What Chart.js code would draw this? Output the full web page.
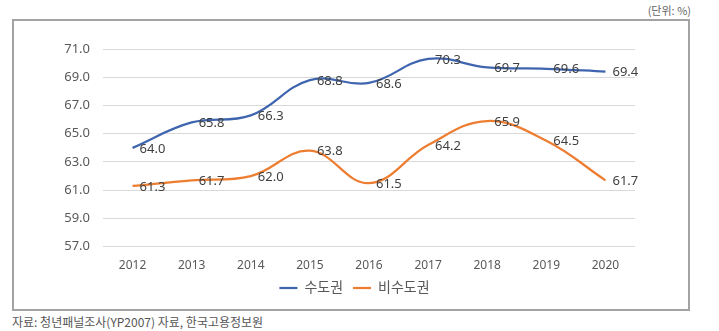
<!DOCTYPE html>
<html>
<head>
<meta charset="utf-8">
<script src="https://cdn.jsdelivr.net/npm/chart.js@4/dist/chart.umd.min.js"></script>
<style>
  html, body { margin: 0; padding: 0; background: #fff; }
  #page { position: relative; width: 719px; height: 331px; overflow: hidden; font-family: 'Noto Sans CJK KR', 'Noto Sans', sans-serif; }
  #unit { position: absolute; right: 28px; top: 2px; font-size: 11px; color: #666; }
  #box { position: absolute; left: 12px; top: 19px; width: 678px; height: 292px; box-sizing: border-box; border: 2px solid #a3a3a3; }
  #box canvas { position: absolute; left: 0; top: 0; }
  #source { position: absolute; left: 12px; top: 313px; font-size: 12px; color: #555; letter-spacing: 0px; }
</style>
</head>
<body>
<div id="page">
  <div id="unit">(단위: %)</div>
  <div id="box"><canvas id="chart" width="674" height="288"></canvas></div>
  <div id="source">자료: 청년패널조사(YP2007) 자료, 한국고용정보원</div>
</div>
<script>
const years = ['2012', '2013', '2014', '2015', '2016', '2017', '2018', '2019', '2020'];
const capitalArea = [64.0, 65.8, 66.3, 68.8, 68.6, 70.3, 69.7, 69.6, 69.4];
const nonCapitalArea = [61.3, 61.7, 62.0, 63.8, 61.5, 64.2, 65.9, 64.5, 61.7];
const seriesNames = ['수도권', '비수도권'];

const FONT = "'Noto Sans', 'Noto Sans CJK KR', sans-serif";

// value labels to the right of each point (excel style)
const valueLabels = {
  id: 'valueLabels',
  afterDatasetsDraw(chart) {
    const ctx = chart.ctx;
    ctx.save();
    ctx.font = '13px ' + FONT;
    ctx.fillStyle = '#404040';
    ctx.textAlign = 'left';
    ctx.textBaseline = 'middle';
    chart.data.datasets.forEach((ds, i) => {
      chart.getDatasetMeta(i).data.forEach((pt, j) => {
        ctx.fillText(ds.data[j].toFixed(1), pt.x + 7, pt.y + 1);
      });
    });
    ctx.restore();
  }
};

// centre the legend under the middle of the frame, not the whole canvas
const legendShift = {
  id: 'legendShift',
  afterLayout(chart) {
    if (chart.legend) chart.legend.left = 60;
  }
};

new Chart(document.getElementById('chart'), {
  type: 'line',
  data: {
    labels: years,
    datasets: [
      {
        label: seriesNames[0],
        data: capitalArea,
        borderColor: '#3f65ae',
        backgroundColor: '#3f65ae',
        borderWidth: 2.25,
        pointRadius: 0,
        tension: 0.4
      },
      {
        label: seriesNames[1],
        data: nonCapitalArea,
        borderColor: '#ed7d31',
        backgroundColor: '#ed7d31',
        borderWidth: 2.25,
        pointRadius: 0,
        tension: 0.4
      }
    ]
  },
  options: {
    responsive: false,
    devicePixelRatio: 1,
    animation: false,
    layout: { padding: { top: 28, left: 0, right: 53, bottom: 4 } },
    plugins: {
      legend: {
        position: 'bottom',
        labels: {
          usePointStyle: true,
          pointStyle: 'line',
          pointStyleWidth: 18,
          padding: 10,
          color: '#595959',
          font: { size: 14, family: FONT }
        }
      },
      tooltip: { enabled: false }
    },
    scales: {
      x: {
        offset: true,
        grid: { display: false },
        border: { display: false },
        ticks: { color: '#595959', padding: 4, font: { size: 12, family: FONT } },
        afterFit(scale) { scale.height = 24.3; }
      },
      y: {
        min: 57,
        max: 71,
        grid: { color: '#d9d9d9', drawTicks: false },
        border: { display: false },
        ticks: {
          stepSize: 2,
          padding: 13,
          color: '#595959',
          font: { size: 13, family: FONT },
          callback: (v) => v.toFixed(1)
        },
        afterFit(scale) { scale.width = 89; }
      }
    }
  },
  plugins: [valueLabels, legendShift]
});
</script>
</body>
</html>
